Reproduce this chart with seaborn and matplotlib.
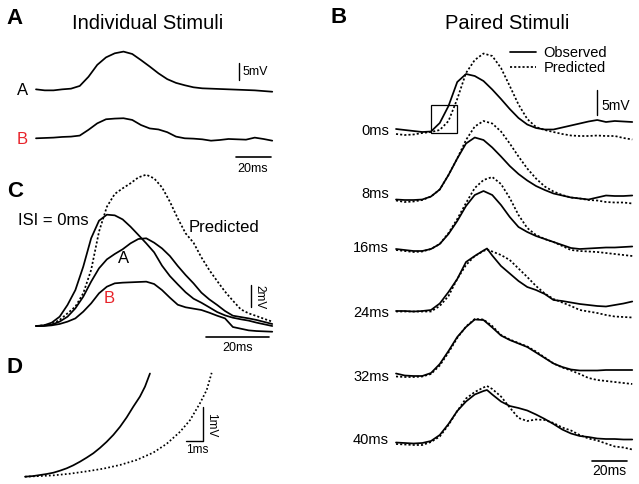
import numpy as np
import pandas as pd
import matplotlib
matplotlib.use('Agg')
import matplotlib.pyplot as plt
from matplotlib.lines import Line2D
from matplotlib.patches import Rectangle
import seaborn as sns

# ---- data (ms / mV) ----
# panel A, individual stimuli, 5 ms sampling
tA = [0, 5, 10, 15, 20, 25, 30, 35, 40, 45, 50, 55, 60, 65, 70, 75, 80, 85, 90, 95,
      100, 105, 110, 115, 120, 125, 130, 135]
stimA = [-0.1, -0.4, -0.4, -0.1, 0.1, 0.9, 3.6, 7.1, 9.3, 10.5, 11.0, 10.3, 8.5, 6.6, 4.6, 2.9,
         1.8, 1.1, 0.5, 0.2, 0.1, 0.0, -0.1, -0.2, -0.3, -0.4, -0.6, -0.8]
stimB = [0, 0.1, 0.2, 0.4, 0.5, 0.8, 2.5, 4.4, 5.6, 5.8, 5.9, 5.4, 3.9, 2.9, 2.6, 1.8,
         0.5, 0.0, -0.1, -0.3, -0.7, -0.5, -0.2, -0.3, -0.4, 0.2, -0.2, -0.7]

# panel B, paired stimuli at several ISIs
tB = [0, 5, 10, 15, 20, 25, 30, 35, 40, 45, 50, 55, 60, 65, 70, 75, 80, 85, 90, 95,
      100, 105, 110, 115, 120, 125, 130, 135]
tB_pk = [0, 5, 10, 15, 20, 25, 30, 35, 40, 45, 50, 52, 55, 60, 65, 70, 75, 80, 85, 90, 95,
         100, 105, 110, 115, 120, 125, 130, 135]
isi_labels = ['0ms', '8ms', '16ms', '24ms', '32ms', '40ms']
obs_0 = [0.5, 0.3, 0.1, -0.1, 0.0, 1.7, 5.1, 9.9, 11.5, 11.1, 10.1, 8.4, 6.5, 4.5, 2.7, 1.4,
         0.7, 0.4, 0.4, 0.8, 1.2, 1.6, 2.0, 2.3, 1.9, 2.1, 2.0, 1.9]
pred_0 = [-0.5, -0.7, -0.6, -0.3, -0.1, 0.3, 2.1, 6.5, 11.7, 14.3, 15.6, 15.1, 12.7, 9.1, 5.4,
          2.5, 0.9, 0.3, -0.1, -0.5, -0.8, -0.9, -0.9, -0.8, -0.9, -0.9, -1.3, -1.6]
obs_8 = [0.1, 0, 0, 0.1, 0.7, 2.1, 5.0, 8.3, 11.3, 12.5, 12.0, 10.5, 8.7, 6.8, 5.2, 3.9,
         2.8, 2.0, 1.3, 0.9, 0.5, 0.3, 0.1, 0.5, 0.9, 0.8, 0.8, 0.9]
pred_8 = [-0.1, -0.4, -0.3, 0, 0.7, 2.1, 5.0, 8.3, 12.0, 14.7, 15.8, 15.3, 13.7, 11.3, 8.7,
          6.3, 4.3, 2.7, 1.7, 1.0, 0.5, 0.3, 0, -0.1, -0.4, -0.5, -0.5, -0.7]
obs_16 = [0, -0.2, -0.4, -0.4, 0, 1.0, 3.0, 5.6, 8.6, 10.8, 11.6, 10.8, 8.8, 6.4, 4.4, 3.4,
          2.6, 2.0, 1.4, 0.8, 0.2, 0, 0.1, 0.2, 0.3, 0.3, 0.4, 0.5]
pred_16 = [-0.2, -0.4, -0.6, -0.5, 0, 1.0, 3.2, 6.0, 9.2, 12.2, 13.8, 14.4, 13.0, 10.2, 6.8,
           4.2, 2.8, 2.0, 1.4, 0.6, -0.2, -0.4, -0.5, -0.6, -0.8, -1.0, -1.2, -1.4]
obs_24 = [0, 0, -0.1, 0, 0.2, 1.5, 3.8, 6.4, 9.8, 11.0, 12.1, 12.5, 11.1, 9.0, 7.5, 6.0, 4.8,
          4.2, 3.4, 2.2, 2.0, 1.7, 1.4, 1.2, 1.0, 0.9, 1.2, 1.5, 1.9]
pred_24 = [-0.1, -0.1, -0.1, -0.1, -0.1, 1.0, 3.0, 6.4, 9.2, 11.0, 12.0, 12.3, 11.9, 11.2, 10.2,
           8.5, 6.8, 5.0, 3.5, 2.4, 1.7, 1.0, 0.2, -0.1, -0.4, -0.8, -1.1, -1.2, -1.3]
obs_32 = [0.4, 0, -0.1, -0.1, 0.5, 2.3, 4.9, 7.7, 9.7, 11.2, 11.1, 9.6, 8.0, 7.1, 6.4, 5.7,
          4.6, 3.5, 2.4, 1.7, 1.2, 1.0, 1.0, 1.0, 1.1, 1.1, 1.1, 1.1]
pred_32 = [-0.2, -0.3, -0.3, -0.2, 0.3, 2.0, 4.6, 7.5, 9.8, 11.3, 11.2, 9.9, 8.1, 7.2, 6.5, 5.8,
           4.8, 3.6, 2.4, 1.6, 1.0, 0.3, -0.5, -0.9, -1.1, -1.3, -1.5, -1.7]
obs_40 = [0.1, 0, -0.1, 0, 0.4, 1.6, 3.8, 6.4, 8.3, 9.7, 10.4, 10.6, 9.7, 8.3, 7.4, 7.0, 6.5,
          5.7, 4.8, 3.8, 2.7, 1.9, 1.4, 1.2, 0.9, 0.8, 0.8, 0.7, 0.7]
pred_40 = [-0.2, -0.3, -0.4, -0.4, 0.2, 1.3, 3.6, 6.4, 8.9, 10.2, 11.1, 11.4, 10.8, 9.3, 7.1,
           5.0, 4.4, 4.7, 4.6, 4.0, 3.1, 2.5, 1.6, 0.9, 0.5, -0.1, -0.7, -0.9, -1.3]
b_offsets = [62.3, 48.6, 38.8, 26.4, 13.5, 0]

# panel C, averaged responses, 2.5 ms sampling
tC = [0, 2.5, 5, 7.5, 10, 12.5, 15, 17.5, 20, 22.5, 25, 27.5, 30, 32.5, 35, 37.5, 40, 42.5,
      45, 47.5, 50, 52.5, 55, 57.5, 60, 62.5, 65, 67.5, 70, 72.5, 75]
c_isi0 = [0, 0.06, 0.30, 0.83, 1.88, 3.21, 5.30, 7.83, 9.40, 9.94, 9.88, 9.52, 8.87, 8.13,
          7.38, 6.58, 5.39, 4.46, 3.72, 3.01, 2.44, 2.08, 1.67, 1.25, 0.95, 0.74, 0.60, 0.48,
          0.30, 0.15, 0]
c_A = [0, 0.03, 0.12, 0.39, 0.83, 1.58, 2.62, 3.96, 5.15, 5.95, 6.43, 6.85, 7.38, 7.77, 7.83,
       7.44, 6.93, 6.25, 5.36, 4.55, 3.81, 2.98, 2.38, 1.88, 1.34, 0.92, 0.80, 0.68, 0.54,
       0.36, 0.18]
c_B = [0, 0, 0.06, 0.18, 0.39, 0.68, 1.28, 2.02, 2.92, 3.51, 3.81, 3.87, 3.90, 3.93, 3.96,
       3.75, 3.21, 2.53, 1.90, 1.67, 1.55, 1.43, 1.19, 0.92, 0.68, -0.09, -0.24, -0.39, -0.45,
       -0.48, -0.51]
c_pred = [0, 0.06, 0.18, 0.54, 1.13, 1.73, 2.92, 5.0, 8.42, 10.65, 11.79, 12.29, 12.74, 13.27,
          13.51, 13.18, 12.38, 11.10, 9.61, 8.27, 7.44, 6.13, 5.0, 4.02, 3.07, 2.26, 1.49, 1.13,
          0.89, 0.63, 0.39]

# panel D, onset (boxed region in B)
tD_obs = [0, 0.49, 0.88, 1.27, 1.67, 2.06, 2.45, 2.84, 3.24, 3.63, 4.02, 4.41, 4.80, 5.20,
          5.59, 5.98, 6.37, 6.76, 7.06, 7.35]
d_obs = [0, 0.02, 0.05, 0.08, 0.12, 0.18, 0.25, 0.34, 0.45, 0.57, 0.70, 0.86, 1.04, 1.25,
         1.49, 1.77, 2.09, 2.39, 2.69, 3.08]
tD_pred = [0, 0.88, 1.67, 2.65, 3.63, 4.61, 5.59, 6.57, 7.55, 8.33, 9.12, 9.71, 10.29, 10.69,
           10.98]
d_pred = [0, 0.02, 0.04, 0.09, 0.16, 0.24, 0.35, 0.50, 0.72, 0.98, 1.34, 1.69, 2.19, 2.59, 3.10]

# ---- figure ----
sns.set_style('white')
plt.rcParams['font.family'] = ['Liberation Sans', 'DejaVu Sans']
plt.rcParams['text.color'] = 'black'

W, H = 639, 484
RED = '#e8232a'
LW = 1.25
DOT = (0, (1.2, 1.2))

fig = plt.figure(figsize=(W / 100, H / 100), dpi=100)


def panel_axes(x0, y0, sx, sy):
    # full-figure axes; (x0, y0) is the pixel of t=0, v=0; sx px/ms, sy px/mV
    ax = fig.add_axes([0, 0, 1, 1])
    ax.set_xlim(-x0 / sx, (W - x0) / sx)
    ax.set_ylim((y0 - H) / sy, y0 / sy)
    ax.axis('off')
    return ax


def label(x, y, s, **kw):
    fig.text(x / W, 1 - y / H, s, **kw)


# A
axA = panel_axes(36, 89, 1.75, 3.4)
sns.lineplot(x=tA, y=stimA, ax=axA, color='black', lw=LW)
sns.lineplot(x=tA, y=np.array(stimB) - 14.5, ax=axA, color='black', lw=LW)
axA.plot([116.2, 116.2], [2.6, 7.6], color='black', lw=1.0)
axA.plot([114.3, 134.3], [-19.9, -19.9], color='black', lw=1.2)

# B
axB = panel_axes(396, 443, 1.75, 5.0)
traces = [(obs_0, pred_0, tB), (obs_8, pred_8, tB), (obs_16, pred_16, tB),
          (obs_24, pred_24, tB_pk), (obs_32, pred_32, tB), (obs_40, pred_40, tB_pk)]
frames = []
for lab, off, (obs, pred, t) in zip(isi_labels, b_offsets, traces):
    frames.append(pd.DataFrame({'t': t, 'mV': np.array(obs) + off, 'isi': lab, 'kind': 'Observed'}))
    frames.append(pd.DataFrame({'t': t, 'mV': np.array(pred) + off, 'isi': lab, 'kind': 'Predicted'}))
dfB = pd.concat(frames, ignore_index=True)
sns.lineplot(data=dfB, x='t', y='mV', units='isi', estimator=None, sort=False,
             style='kind', dashes={'Observed': '', 'Predicted': (1.2, 1.2)},
             color='black', lw=LW, legend=False, ax=axB)
axB.add_patch(Rectangle((20, b_offsets[0] - 0.25), 14.7, 5.55, fill=False, ec='black', lw=0.9))
axB.plot([115, 115], [65.6, 70.6], color='black', lw=1.0)
axB.plot([112, 132], [-3.5, -3.5], color='black', lw=1.2)
handles = [Line2D([], [], color='black', lw=LW), Line2D([], [], color='black', lw=LW, ls=DOT)]
axB.legend(handles, ['Observed', 'Predicted'], loc='upper left',
           bbox_to_anchor=(510 / W, 1 - 46 / H), bbox_transform=fig.transFigure,
           frameon=False, fontsize=10.5, handlelength=1.75, handletextpad=0.55,
           labelspacing=0.1, borderpad=0, borderaxespad=0)

# C
axC = panel_axes(36, 326, 3.15, 11.2)
for v in (c_isi0, c_A, c_B):
    sns.lineplot(x=tC, y=v, ax=axC, color='black', lw=LW)
sns.lineplot(x=tC, y=c_pred, ax=axC, color='black', lw=LW, linestyle=DOT)
axC.plot([68.2, 68.2], [1.7, 3.7], color='black', lw=1.0)
axC.plot([53.9, 73.9], [-1.0, -1.0], color='black', lw=1.2)

# D
axD = panel_axes(25, 476.7, 17, 33.5)
sns.lineplot(x=tD_obs, y=d_obs, ax=axD, color='black', lw=LW)
sns.lineplot(x=tD_pred, y=d_pred, ax=axD, color='black', lw=LW, linestyle=(0, (1.0, 1.3)))
axD.plot([9.45, 10.45, 10.45], [1.07, 1.07, 2.07], color='black', lw=1.0)

# ---- text ----
for x, y, s in [(6, 24, 'A'), (330, 23.3, 'B'), (7, 196.7, 'C'), (7, 373.3, 'D')]:
    label(x, y, s, fontsize=16, fontweight='bold', va='baseline')
label(148, 29.3, 'Individual Stimuli', fontsize=14.5, ha='center', va='baseline')
label(507, 29.3, 'Paired Stimuli', fontsize=14.5, ha='center', va='baseline')

label(17, 95, 'A', fontsize=12, va='baseline')
label(17, 144, 'B', fontsize=12, va='baseline', color=RED)
label(243, 75, '5mV', fontsize=9, va='baseline')
label(253, 172, '20ms', fontsize=9, ha='center', va='baseline')

for s, y in zip(isi_labels, [135, 198.3, 252.3, 317.3, 380.7, 444]):
    label(389, y, s, fontsize=10.5, ha='right', va='baseline')
label(601, 110, '5mV', fontsize=10, va='baseline')
label(609, 475, '20ms', fontsize=10, ha='center', va='baseline')

label(18, 225, 'ISI = 0ms', fontsize=12, va='baseline')
label(189, 232.3, 'Predicted', fontsize=12, va='baseline')
label(118, 263.3, 'A', fontsize=12, va='baseline')
label(104, 303.3, 'B', fontsize=12, va='baseline', color=RED)
label(259, 297.5, '2mV', fontsize=8.5, ha='center', va='center', rotation=270)
label(237.5, 351, '20ms', fontsize=9, ha='center', va='baseline')

label(211, 425, '1mV', fontsize=8.5, ha='center', va='center', rotation=270)
label(197.5, 453.3, '1ms', fontsize=8.5, ha='center', va='baseline')

fig.savefig('out.png', dpi=100)
